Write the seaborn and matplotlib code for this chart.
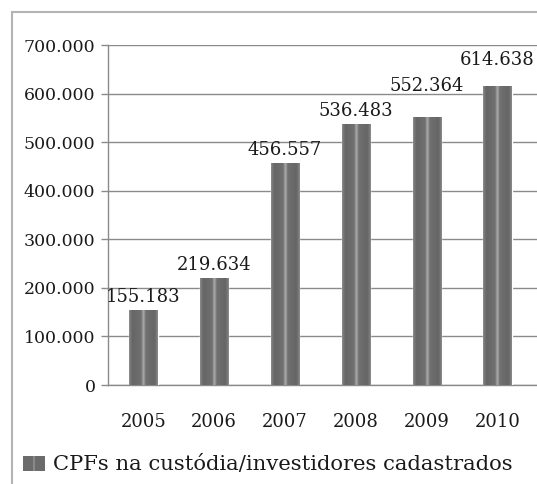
import numpy as np
import pandas as pd
import matplotlib
matplotlib.use("Agg")
import matplotlib.pyplot as plt
import seaborn as sns
from matplotlib.lines import Line2D

# === Dados ===
anos = ["2005", "2006", "2007", "2008", "2009", "2010"]
investidores = [155183, 219634, 456557, 536483, 552364, 614638]
rotulos = ["155.183", "219.634", "456.557", "536.483", "552.364", "614.638"]
legenda = "CPFs na custódia/investidores cadastrados"

# deslocamento vertical extra dos rótulos (px)
lift = [4, 4, 4, 4, 22, 17]

df = pd.DataFrame({"ano": anos, "valor": investidores})

sns.set_style("white")
plt.rcParams["font.family"] = ["DejaVu Serif"]

fig = plt.figure(figsize=(5.37, 4.84), dpi=100)
ax = fig.add_axes([108 / 537, 1 - 385 / 484, 429 / 537, 340 / 484])

sns.barplot(data=df, x="ano", y="valor", color="#6b6b6b", width=0.40,
            saturation=1, ax=ax, zorder=3)

# === gradiente das barras ===
xs = np.linspace(0, 1, 64)
perfil = np.interp(xs, [0, 0.06, 0.12, 0.42, 0.5, 0.58, 0.88, 0.94, 1],
                   [0.55, 0.45, 0.40, 0.44, 0.68, 0.44, 0.40, 0.45, 0.55])
grad = np.tile(perfil, (2, 1))
for p in ax.patches:
    x0, y0 = p.get_x(), p.get_y()
    w, h = p.get_width(), p.get_height()
    im = ax.imshow(grad, extent=[x0, x0 + w, y0, y0 + h], cmap="gray",
                   vmin=0, vmax=1, aspect="auto", zorder=4, interpolation="bilinear")
    im.set_clip_path(p)

# === rótulos ===
for i, (v, txt) in enumerate(zip(investidores, rotulos)):
    ax.annotate(txt, (i, v), xytext=(0, lift[i] * 0.72), textcoords="offset points",
                ha="center", va="bottom", fontsize=13, color="#1a1a1a", zorder=5)

ax.set_xlim(-0.5, 5.5 + 4 / 70.7)
ax.set_ylim(0, 700000)
ax.set_yticks(np.arange(0, 700001, 100000))
ax.set_yticklabels(["0"] + [f"{k}00.000" for k in range(1, 8)])
ax.yaxis.grid(True, color="#8a8a8a", linewidth=1)
ax.set_axisbelow(True)
ax.set_xlabel("")
ax.set_ylabel("")

ax.set_xticks(range(6))
ax.set_xticks([-0.5, 1.5, 2.5, 3.5, 4.5, 5.5], minor=True)
ax.tick_params(axis="x", which="major", length=0, pad=20, labelsize=13, labelcolor="#1a1a1a")
ax.tick_params(axis="x", which="minor", length=5, width=1, color="#8a8a8a", direction="out")
ax.tick_params(axis="y", length=5, width=1, color="#8a8a8a", pad=4, labelsize=12.5,
               labelcolor="#1a1a1a", left=True)

for s in ["top", "right"]:
    ax.spines[s].set_visible(False)
for s in ["left", "bottom"]:
    ax.spines[s].set_color("#8a8a8a")
    ax.spines[s].set_linewidth(1)

# === moldura externa ===
fx = 11.5 / 537
fy = 1 - 11.5 / 484
fig.add_artist(Line2D([fx, fx], [0, fy], color="#b4b4b4", lw=1.5, transform=fig.transFigure))
fig.add_artist(Line2D([fx, 1], [fy, fy], color="#b4b4b4", lw=1.5, transform=fig.transFigure))

# === legenda ===
lax = fig.add_axes([23 / 537, 1 - 471 / 484, 22 / 537, 15 / 484])
perfil_leg = np.interp(np.linspace(0, 1, 44), [0, 0.45, 0.5, 0.55, 1],
                       [0.42, 0.42, 0.65, 0.42, 0.42])
lax.imshow(np.tile(perfil_leg, (2, 1)), cmap="gray", vmin=0, vmax=1, aspect="auto")
lax.axis("off")
fig.text(53 / 537, 1 - 464 / 484, legenda, fontsize=15.2, color="#1a1a1a", va="center", ha="left")

plt.savefig("out.png", dpi=100)
